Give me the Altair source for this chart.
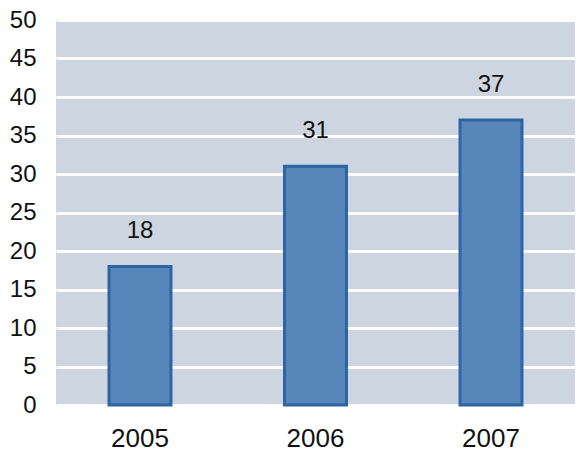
import altair as alt
import pandas as pd

years = ["2005", "2006", "2007"]
values = [18, 31, 37]
y_ticks = [0, 5, 10, 15, 20, 25, 30, 35, 40, 45, 50]

df = pd.DataFrame({"year": years, "value": values})

x = alt.X("year:N", title=None,
          scale=alt.Scale(paddingInner=0.647, paddingOuter=0.302),
          axis=alt.Axis(labelAngle=0, labelFontSize=26, labelFont="Liberation Sans",
                        labelColor="#111111", domain=False, ticks=False, labelPadding=41,
                        labelBaseline="alphabetic", grid=False))
y = alt.Y("value:Q", title=None,
          scale=alt.Scale(domain=[0, 50], nice=False),
          axis=alt.Axis(values=y_ticks, labelFontSize=24, labelOverlap=False,
                        labelFont="Liberation Sans", labelColor="#111111",
                        domain=False, ticks=False, labelPadding=20,
                        gridColor="white", gridWidth=3, gridOpacity=1))

bars = alt.Chart(df).mark_bar(color="#5786BA", stroke="#2D65A3", strokeWidth=3).encode(
    x=x, y=y)

labels = alt.Chart(df).mark_text(fontSize=24, font="Liberation Sans", color="#111111",
                                 baseline="alphabetic", dy=-28).encode(
    x=x, y=y, text=alt.Text("value:Q"))

chart = alt.layer(bars, labels).properties(
    width=519, height=385,
    autosize=alt.AutoSizeParams(type="none"),
    padding={"left": 48, "top": 12, "right": 0, "bottom": 47},
).configure_view(fill="#CCD5E0", stroke=None)

chart.save("out.html", embed_options={"renderer": "svg", "actions": False})
